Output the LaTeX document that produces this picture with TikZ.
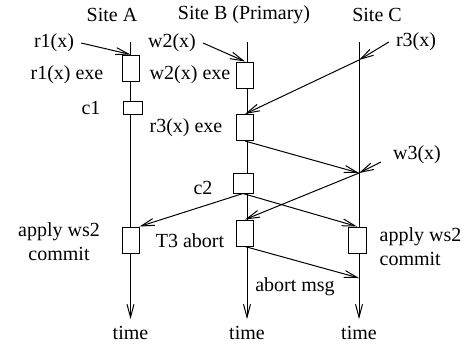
\documentclass[tikz,border=0pt]{standalone}
\usepackage{fontspec}
\setmainfont{Liberation Serif}
\usetikzlibrary{arrows.meta}

\begin{document}
\begin{tikzpicture}[x=0.5pt,y=-0.5pt,line width=0.5pt,
	msg/.style={-{Straight Barb[length=6.5pt,width=3.5pt]}},
	box/.style={draw,fill=white,inner sep=0pt,minimum width=8.5pt,minimum height=13pt}]
	\useasboundingbox (0,0) rectangle (469,345);
	% time lines
	\foreach \n/\x in {a/130.5,b/247,c/359}
		{
		\coordinate (top\n) at (\x,42);
		\node (time\n) at (\x,333) {time};
		\draw[msg] (top\n) -- (time\n.north);
		}
	\node at (112,15) {Site A};
	\node at (244,15) {Site B (Primary)};
	\node at (377,15) {Site C};
	
	% boxes
	\node[box] (ra) at (130.5,68) {};
	\node[box,minimum width=9.5pt,minimum height=6.5pt] (ca) at (132.5,107.5) {};
	\node[box] (wa) at (130.5,240) {};
	\node[box] (wb) at (245,75) {};
	\node[box] (rb) at (245,127.5) {};
	\node[box,minimum width=10pt,minimum height=10pt] (cb) at (243,183) {};
	\node[box] (tb) at (245,233) {};
	\node[box,minimum width=9pt] (wc) at (357,240) {};
	
	% labels
	\node (r1x) at (54,43) {r1(x)};
	\node (w2x) at (172,43) {w2(x)};
	\node (r3x) at (416,42) {r3(x)};
	\node (w3x) at (417,155) {w3(x)};
	\node at (67,75) {r1(x) exe};
	\node at (190,75) {w2(x) exe};
	\node at (91,108) {c1};
	\node at (186,128) {r3(x) exe};
	\node at (203,188) {c2};
	\node[align=center] at (59,241.5) {apply ws2\\commit};
	\node at (190,241) {T3 abort};
	\node[align=left,anchor=west] at (372.5,246.5) {apply ws2\\commit};
	\node at (295,287) {abort msg};
	
	% messages
	\coordinate (cr3) at (359,60);
	\coordinate (cw3) at (359,173);
	\coordinate (cab) at (359,278);
	\coordinate (w3s) at (381,162);
	\draw[msg] (r1x.east) -- (ra.north);
	\draw[msg] (w2x.east) -- (wb.north);
	\draw[msg] (r3x.west) -- (cr3);
	\draw[msg] (cr3) -- (rb.north);
	\draw[msg] (rb.south) -- (cw3);
	\draw[msg] (w3s) -- (cw3);
	\draw[msg] (cw3) -- (tb.north);
	\draw[msg] (cb.south) -- (wa.north east);
	\draw[msg] (cb.south) -- (wc.north);
	\draw[msg] (tb.south) -- (cab);
\end{tikzpicture}
\end{document}
